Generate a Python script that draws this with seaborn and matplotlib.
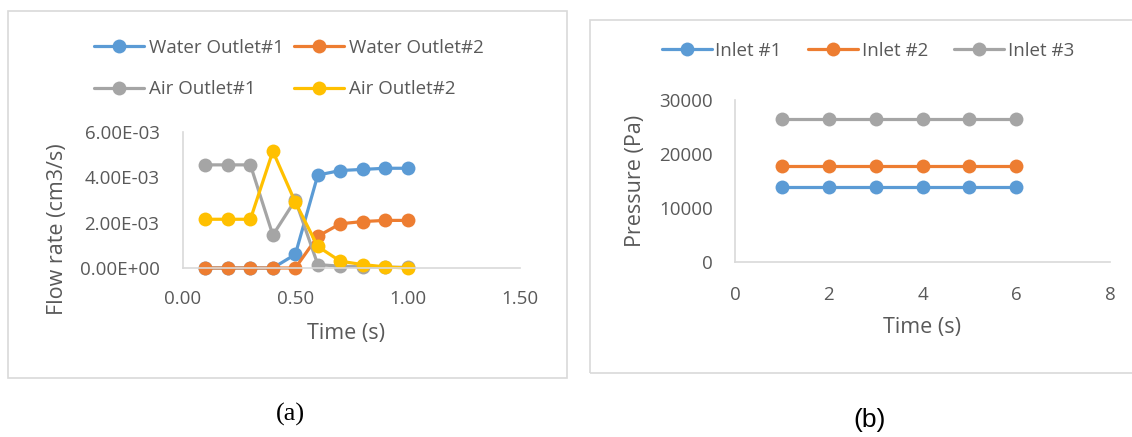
import matplotlib
matplotlib.use("Agg")
import matplotlib.pyplot as plt
import matplotlib.patches as mpatches
import seaborn as sns

# ---- data ----
time_a = [0.1, 0.2, 0.3, 0.4, 0.5, 0.6, 0.7, 0.8, 0.9, 1.0]
water_outlet1 = [0, 0, 0, 0, 0.0006, 0.0041, 0.0043, 0.00435, 0.0044, 0.0044]
water_outlet2 = [0, 0, 0, 0, 0, 0.0014, 0.00195, 0.00205, 0.0021, 0.0021]
air_outlet1 = [0.00455, 0.00455, 0.00455, 0.00145, 0.003, 0.00015, 0.00008, 0.00005, 0.00003, 0.00003]
air_outlet2 = [0.00215, 0.00215, 0.00215, 0.00515, 0.0029, 0.00095, 0.0003, 0.00015, 0.00005, 0.0]

time_b = [1, 2, 3, 4, 5, 6]
inlet1 = [13900] * 6
inlet2 = [17700] * 6
inlet3 = [26500] * 6

BLUE, ORANGE, GRAY, YELLOW = "#5B9BD5", "#ED7D31", "#A5A5A5", "#FFC000"
AXIS = "#D9D9D9"
TXT = "#595959"
TICK_FS = 13.5
LABEL_FS = 15.5

sns.set_style("white")
plt.rcParams["font.family"] = ["Open Sans", "DejaVu Sans"]

W, H = 1132, 437
fig = plt.figure(figsize=(W / 100, H / 100), dpi=100)


def px_axes(x0, y0, x1, y1):
    # pixel box (top-left origin) -> figure coords
    return fig.add_axes([x0 / W, 1 - y1 / H, (x1 - x0) / W, (y1 - y0) / H])


def frame(x0, y0, x1, y1):
    fig.patches.append(mpatches.Rectangle((x0 / W, 1 - y1 / H), (x1 - x0) / W, (y1 - y0) / H,
                                          transform=fig.transFigure, fill=False,
                                          edgecolor=AXIS, linewidth=1.2))


def style(ax):
    sns.despine(ax=ax, top=True, right=True)
    for s in ("left", "bottom"):
        ax.spines[s].set_color(AXIS)
        ax.spines[s].set_linewidth(1.2)
    ax.tick_params(length=0, labelsize=TICK_FS, labelcolor=TXT)
    for ln in ax.lines:
        ln.set_clip_on(False)


frame(8, 11, 567, 378)
frame(590, 20, 1140, 373)

# ---- panel (a) ----
ax1 = px_axes(183, 132, 520, 268)
series_a = [("Water Outlet#1", water_outlet1, BLUE), ("Water Outlet#2", water_outlet2, ORANGE),
            ("Air Outlet#1", air_outlet1, GRAY), ("Air Outlet#2", air_outlet2, YELLOW)]
for name, vals, col in series_a:
    sns.lineplot(x=time_a, y=vals, ax=ax1, color=col, marker="o", markersize=10,
                 markeredgewidth=0, linewidth=2.3, label=name, legend=False)
ax1.set_xlim(0, 1.5)
ax1.set_ylim(0, 0.006)
ax1.set_xticks([0, 0.5, 1.0, 1.5])
ax1.set_xticklabels(["0.00", "0.50", "1.00", "1.50"])
ax1.set_yticks([0, 0.002, 0.004, 0.006])
ax1.set_yticklabels(["0.00E+00", "2.00E-03", "4.00E-03", "6.00E-03"])
style(ax1)
ax1.tick_params(axis="x", pad=16)
ax1.tick_params(axis="y", pad=17)
ax1.set_xlabel("Time (s)", fontsize=LABEL_FS, color=TXT)
ax1.set_ylabel("Flow rate (cm3/s)", fontsize=LABEL_FS, color=TXT)
ax1.xaxis.set_label_coords(0.485, 1 - (334 - 132) / 136, transform=ax1.transAxes)
ax1.xaxis.label.set_va("center")
ax1.yaxis.set_label_coords(-(183 - 57) / 337, 1 - (229 - 132) / 136, transform=ax1.transAxes)
ax1.yaxis.label.set_va("center")
h, l = ax1.get_legend_handles_labels()
order = [0, 2, 1, 3]
fig.legend([h[i] for i in order], [l[i] for i in order], ncol=2, frameon=False,
           loc="center left", bbox_to_anchor=(86 / W, 1 - 68.5 / H), fontsize=TICK_FS,
           labelcolor=TXT, handlelength=2.67, handletextpad=0.27, columnspacing=0.55,
           labelspacing=1.25, borderaxespad=0)

# ---- panel (b) ----
ax2 = px_axes(735, 100, 1110, 262)
series_b = [("Inlet #1", inlet1, BLUE), ("Inlet #2", inlet2, ORANGE), ("Inlet #3", inlet3, GRAY)]
for name, vals, col in series_b:
    sns.lineplot(x=time_b, y=vals, ax=ax2, color=col, marker="o", markersize=10,
                 markeredgewidth=0, linewidth=2.3, label=name, legend=False)
ax2.set_xlim(0, 8)
ax2.set_ylim(0, 30000)
ax2.set_xticks([0, 2, 4, 6, 8])
ax2.set_yticks([0, 10000, 20000, 30000])
style(ax2)
ax2.tick_params(axis="x", pad=17)
ax2.tick_params(axis="y", pad=16)
ax2.set_xlabel("Time (s)", fontsize=LABEL_FS, color=TXT)
ax2.set_ylabel("Pressure (Pa)", fontsize=LABEL_FS, color=TXT)
ax2.xaxis.set_label_coords((922 - 735) / 375, 1 - (328 - 100) / 162, transform=ax2.transAxes)
ax2.xaxis.label.set_va("center")
ax2.yaxis.set_label_coords(-(735 - 635) / 375, 0.5, transform=ax2.transAxes)
ax2.yaxis.label.set_va("center")
h2, l2 = ax2.get_legend_handles_labels()
fig.legend(h2, l2, ncol=3, frameon=False, loc="center left",
           bbox_to_anchor=(654 / W, 1 - 51 / H), fontsize=TICK_FS, labelcolor=TXT,
           handlelength=2.67, handletextpad=0.2, columnspacing=1.4, borderaxespad=0)

# ---- panel letters ----
fig.text(290 / W, 1 - 414 / H, "(a)", fontsize=19, family=["Liberation Serif", "DejaVu Serif"],
         ha="center", va="center", color="black", stretch="condensed")
fig.text(870 / W, 1 - 420 / H, "(b)", fontsize=19, family=["Liberation Sans Narrow", "Liberation Sans"],
         ha="center", va="center", color="black")

fig.savefig("out.png", dpi=100, facecolor="white")
